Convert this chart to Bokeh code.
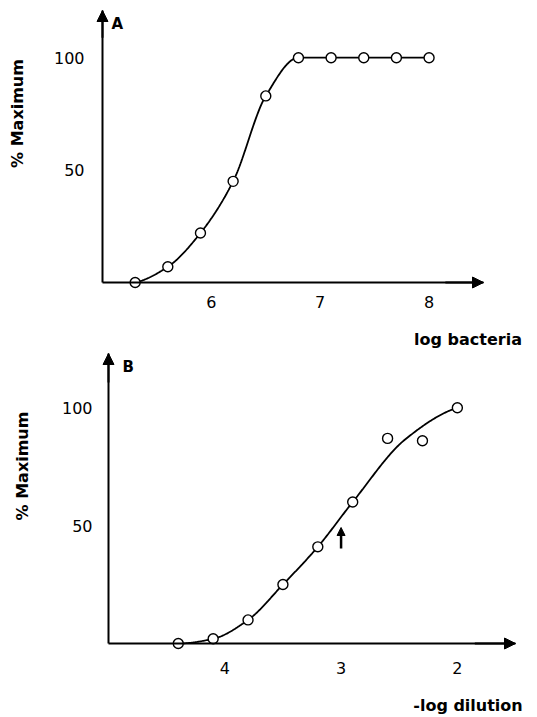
import numpy as np
from bokeh.plotting import figure
from bokeh.layouts import column
from bokeh.models import Range1d, FixedTicker, Arrow, NormalHead, Label, LinearAxis
from bokeh.embed import file_html
from bokeh.resources import INLINE

# ---- data ----
a_log_bacteria = [5.3, 5.6, 5.9, 6.2, 6.5, 6.8, 7.1, 7.4, 7.7, 8.0]
a_pct_max = [0, 7, 22, 45, 83, 100, 100, 100, 100, 100]
a_xticks = [6, 7, 8]

b_neg_log_dilution = [4.4, 4.1, 3.8, 3.5, 3.2, 2.9, 2.6, 2.3, 2.0]
b_pct_max = [0, 2, 10, 25, 41, 60, 87, 86, 100]
b_xticks = [4, 3, 2]
b_marker_x = [3.0]
b_marker_y = [40.3, 49.2]

y_ticks = [50, 100]

FONT = "DejaVu Sans"
W = 537


def isotonic_knots(x, y):
    """Pool adjacent violators (non-decreasing y along the given order)."""
    blocks = []
    for xi, yi in zip(x, y):
        blocks.append([xi, yi, 1])
        while len(blocks) > 1 and blocks[-2][1] / blocks[-2][2] > blocks[-1][1] / blocks[-1][2]:
            b = blocks.pop()
            blocks[-1][0] += b[0]
            blocks[-1][1] += b[1]
            blocks[-1][2] += b[2]
    kx = np.array([b[0] / b[2] for b in blocks])
    ky = np.array([b[1] / b[2] for b in blocks])
    order = np.argsort(kx)
    return kx[order], ky[order]


def pchip(x, y, n=300):
    x = np.asarray(x, float)
    y = np.asarray(y, float)
    h = np.diff(x)
    d = np.diff(y) / h
    m = np.zeros_like(y)
    for k in range(1, len(x) - 1):
        if d[k - 1] * d[k] <= 0:
            m[k] = 0.0
        else:
            w1 = 2 * h[k] + h[k - 1]
            w2 = h[k] + 2 * h[k - 1]
            m[k] = (w1 + w2) / (w1 / d[k - 1] + w2 / d[k])

    def endslope(h0, h1, d0, d1):
        s = ((2 * h0 + h1) * d0 - h0 * d1) / (h0 + h1)
        if np.sign(s) != np.sign(d0):
            s = 0.0
        elif np.sign(d0) != np.sign(d1) and abs(s) > 3 * abs(d0):
            s = 3 * d0
        return s

    m[0] = endslope(h[0], h[1], d[0], d[1])
    m[-1] = endslope(h[-1], h[-2], d[-1], d[-2])
    xs = np.linspace(x[0], x[-1], n)
    idx = np.clip(np.searchsorted(x, xs) - 1, 0, len(x) - 2)
    t = (xs - x[idx]) / h[idx]
    h00 = 2 * t**3 - 3 * t**2 + 1
    h10 = t**3 - 2 * t**2 + t
    h01 = -2 * t**3 + 3 * t**2
    h11 = t**3 - t**2
    ys = h00 * y[idx] + h10 * h[idx] * m[idx] + h01 * y[idx + 1] + h11 * h[idx] * m[idx + 1]
    return xs, ys


class Panel:
    def __init__(self, height, xax, xpx, yax, ypx, xticks, x_standoff, y_standoff):
        # xax = (x at axis origin, x at arrow tip); xpx = their pixel columns
        # yax = (y at axis origin, y at arrow tip); ypx = their pixel rows
        self.sx = (xpx[1] - xpx[0]) / (xax[1] - xax[0])
        self.sy = (ypx[0] - ypx[1]) / (yax[1] - yax[0])
        self.x0, self.px0 = xax[0], xpx[0]
        self.y0, self.py0 = yax[0], ypx[0]
        xr = Range1d(xax[0] - xpx[0] / self.sx, xax[0] + (W - xpx[0]) / self.sx)
        yr = Range1d(yax[0] - (height - ypx[0]) / self.sy, yax[0] + ypx[0] / self.sy)
        p = figure(width=W, height=height, x_range=xr, y_range=yr,
                   output_backend="svg", toolbar_location=None,
                   x_axis_location=None, y_axis_location=None, min_border=0)
        p.outline_line_color = None
        p.grid.visible = False
        p.background_fill_color = "white"
        p.border_fill_color = "white"
        xaxis = LinearAxis(fixed_location=yax[0], bounds=(min(xax), max(xax)),
                           ticker=FixedTicker(ticks=xticks),
                           major_label_standoff=x_standoff)
        yaxis = LinearAxis(fixed_location=xax[0], bounds=(min(yax), max(yax)),
                           ticker=FixedTicker(ticks=y_ticks),
                           major_label_standoff=y_standoff)
        for ax in (xaxis, yaxis):
            ax.axis_line_width = 2
            ax.axis_line_color = "black"
            ax.major_tick_line_color = None
            ax.minor_tick_line_color = None
            ax.major_label_text_font = FONT
            ax.major_label_text_font_size = "16px"
            ax.major_label_text_color = "black"
        p.add_layout(xaxis, "below")
        p.add_layout(yaxis, "left")
        head = dict(size=11, fill_color="black", line_color="black")
        p.add_layout(Arrow(end=NormalHead(**head),
                           x_start=xax[0] + 0.9 * (xax[1] - xax[0]), y_start=yax[0],
                           x_end=xax[1], y_end=yax[0], line_width=2, line_color="black"))
        p.add_layout(Arrow(end=NormalHead(**head),
                           x_start=xax[0], y_start=yax[0] + 0.9 * (yax[1] - yax[0]),
                           x_end=xax[0], y_end=yax[1], line_width=2, line_color="black"))
        self.p = p

    def dx(self, px):
        return self.x0 + (px - self.px0) / self.sx

    def dy(self, py):
        return self.y0 + (self.py0 - py) / self.sy

    def label(self, px, py, text, size, bold=True, angle=0.0, align="center"):
        self.p.add_layout(Label(x=self.dx(px), y=self.dy(py), text=text, text_font=FONT,
                                text_font_style="bold" if bold else "normal",
                                text_font_size=size, angle=angle, text_align=align,
                                text_baseline="middle", text_color="black"))


def add_series(p, x, y):
    kx, ky = isotonic_knots(x, y)
    cx, cy = pchip(kx, ky)
    p.line(cx, cy, line_color="black", line_width=1.8)
    p.scatter(x, y, size=10, marker="circle", fill_color="white",
              line_color="black", line_width=1.4)


# ---- Panel A ----
A = Panel(350, (5.0, 8.5), (102, 483), (0, 121), (282, 10), a_xticks, 7, 12)
add_series(A.p, a_log_bacteria, a_pct_max)
A.label(111, 23.5, "A", "15px", align="left")
A.label(17, 113, "% Maximum", "16px", angle=np.pi / 2)
A.label(467.5, 339, "log bacteria", "16px")

# ---- Panel B ----
B = Panel(367, (5.0, 1.5), (108, 515), (0, 123), (293, 3), b_xticks, 12, 10)
add_series(B.p, b_neg_log_dilution, b_pct_max)
B.p.add_layout(Arrow(end=NormalHead(size=8, fill_color="black", line_color="black"),
                     x_start=b_marker_x[0], y_start=b_marker_y[0],
                     x_end=b_marker_x[0], y_end=b_marker_y[1],
                     line_width=2.5, line_color="black"))
B.label(122, 16, "B", "15px", align="left")
B.label(22, 115.5, "% Maximum", "16px", angle=np.pi / 2)
B.label(467.5, 355, "-log dilution", "16px")

layout = column(A.p, B.p, spacing=0)
open("out.html", "w").write(file_html(layout, INLINE))
